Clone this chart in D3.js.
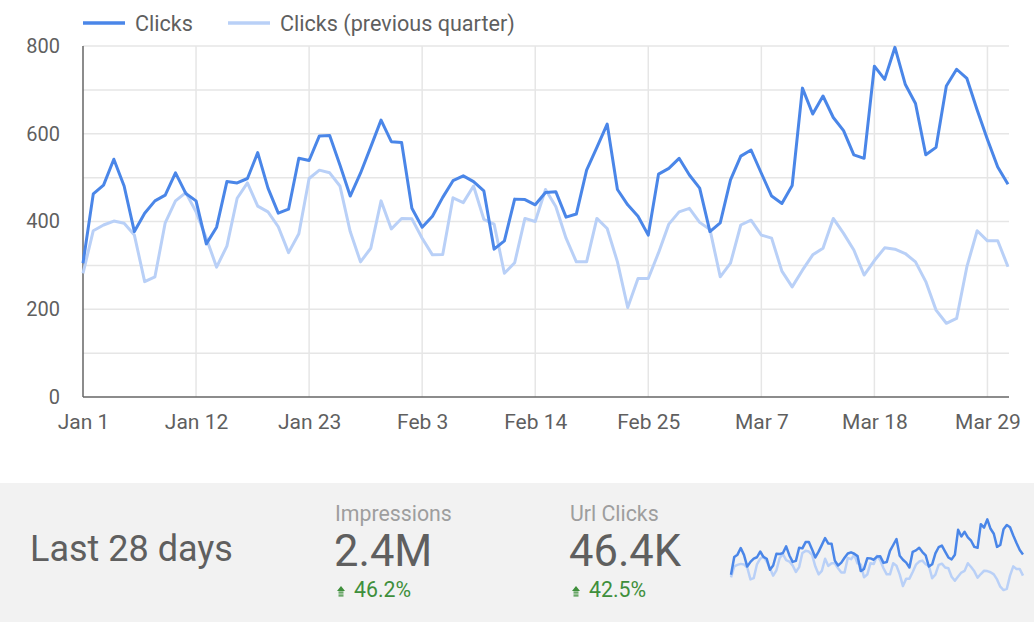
<!DOCTYPE html>
<html>
<head>
<meta charset="utf-8">
<script src="https://cdn.jsdelivr.net/npm/d3@7"></script>
<style>
  body { margin: 0; background: #fff; font-family: Roboto, "Noto Sans", sans-serif; }
  svg { display: block; }
</style>
</head>
<body>
<div id="chart"></div>
<script>
// Daily clicks, Jan 1 - Mar 31 (2020)
const clicks = [305, 463, 483, 542, 481, 377, 419, 447, 460, 511, 464, 447, 349, 387, 491, 488,
  498, 557, 476, 419, 428, 544, 539, 595, 596, 529, 458, 510, 570, 631, 582, 580, 430, 387, 412,
  455, 493, 504, 491, 470, 337, 356, 451, 450, 438, 466, 468, 410, 417, 517, 569, 622, 473, 438,
  412, 369, 508, 521, 544, 506, 476, 377, 397, 495, 549, 563, 510, 458, 441, 482, 704, 645, 686,
  637, 607, 552, 544, 754, 724, 797, 713, 669, 552, 569, 709, 747, 726, 654, 587, 524, 485];

const clicksPrev = [282, 379, 392, 401, 396, 369, 263, 274, 397, 447, 466, 422, 362, 296, 344,
  453, 488, 435, 422, 388, 329, 372, 498, 517, 511, 481, 377, 308, 339, 447, 383, 407, 406, 362,
  324, 325, 454, 443, 481, 405, 394, 282, 306, 407, 400, 473, 434, 362, 308, 308, 407, 384, 308,
  204, 270, 270, 329, 394, 422, 430, 398, 382, 274, 305, 392, 403, 369, 362, 287, 251, 289, 324,
  339, 407, 373, 335, 278, 311, 340, 337, 327, 308, 263, 198, 168, 179, 297, 379, 356, 356, 297];

const seriesNames = ["Clicks", "Clicks (previous quarter)"];
const tickLabels = ["Jan 1", "Jan 12", "Jan 23", "Feb 3", "Feb 14", "Feb 25", "Mar 7", "Mar 18", "Mar 29"];
const yTicks = [0, 200, 400, 600, 800];
const yGrid = [100, 200, 300, 400, 500, 600, 700, 800];

const summaryLabel = "Last 28 days";
const metricNames = ["Impressions", "Url Clicks"];
const metricValues = ["2.4M", "46.4K"];
const metricChanges = ["46.2%", "42.5%"];

const colors = ["#4a86e8", "#b9d0f7"];
const textColor = "#5f5f5f";

const W = 1034, H = 622;
const start = new Date(2020, 0, 1);
const dates = clicks.map((d, i) => d3.timeDay.offset(start, i));
const parseTick = d3.timeParse("%b %d %Y");
const tickDates = tickLabels.map(t => parseTick(t + " 2020"));

const svg = d3.select("#chart").append("svg")
    .attr("width", W)
    .attr("height", H);

// Main chart scales
const x = d3.scaleTime()
    .domain([start, dates[dates.length - 1]])
    .range([83, 1008]);

const y = d3.scaleLinear()
    .domain([0, 800])
    .range([397, 46]);

// Grid
svg.append("g")
    .selectAll("line")
    .data(yGrid)
    .join("line")
    .attr("x1", 83).attr("x2", 1009)
    .attr("y1", d => y(d)).attr("y2", d => y(d))
    .attr("stroke", "#e6e6e6").attr("stroke-width", 1.5);

svg.append("g")
    .selectAll("line")
    .data(tickDates.slice(1))
    .join("line")
    .attr("x1", d => x(d)).attr("x2", d => x(d))
    .attr("y1", y(800)).attr("y2", y(0))
    .attr("stroke", "#e6e6e6").attr("stroke-width", 1.5);

// Axes
const xAxis = svg.append("g")
    .attr("transform", `translate(0,${y(0)})`)
    .call(d3.axisBottom(x).tickValues(tickDates).tickSize(0).tickPadding(17)
        .tickFormat((d, i) => tickLabels[i]));
xAxis.select(".domain").attr("d", `M83,0H1009`).attr("stroke", "#666").attr("stroke-width", 1.5);
xAxis.selectAll(".tick text").attr("font-size", 21);

const yAxis = svg.append("g")
    .attr("transform", "translate(83,0)")
    .call(d3.axisLeft(y).tickValues(yTicks).tickSize(0).tickPadding(23));
yAxis.select(".domain").attr("d", `M0,${y(800)}V${y(0)}`).attr("stroke", "#666").attr("stroke-width", 1.5);
yAxis.selectAll(".tick text").attr("font-size", 20);

svg.selectAll(".tick text")
    .attr("font-family", "Roboto, sans-serif")
    .attr("fill", textColor);

// Lines
const line = d3.line()
    .x((d, i) => x(dates[i]))
    .y(d => y(d));

svg.append("path")
    .datum(clicksPrev)
    .attr("fill", "none")
    .attr("stroke", colors[1])
    .attr("stroke-width", 3)
    .attr("stroke-linejoin", "round")
    .attr("d", line);

svg.append("path")
    .datum(clicks)
    .attr("fill", "none")
    .attr("stroke", colors[0])
    .attr("stroke-width", 3)
    .attr("stroke-linejoin", "round")
    .attr("d", line);

// Legend
const legendX = [83, 228];
const legend = svg.append("g")
    .selectAll("g")
    .data(seriesNames)
    .join("g")
    .attr("transform", (d, i) => `translate(${legendX[i]},23)`);

legend.append("line")
    .attr("x1", 0).attr("x2", 42)
    .attr("stroke", (d, i) => colors[i])
    .attr("stroke-width", 3.5);

legend.append("text")
    .attr("x", 52)
    .attr("y", 7.5)
    .attr("font-family", "Roboto, sans-serif")
    .attr("font-size", 21.6)
    .attr("fill", textColor)
    .text(d => d);

// Summary panel
svg.append("rect")
    .attr("x", 0).attr("y", 483)
    .attr("width", W).attr("height", H - 483)
    .attr("fill", "#f2f2f2");

svg.append("text")
    .attr("x", 30).attr("y", 561)
    .attr("font-family", "Roboto, sans-serif")
    .attr("font-size", 36)
    .attr("fill", textColor)
    .text(summaryLabel);

const metricX = [335, 570];
const metric = svg.append("g")
    .selectAll("g")
    .data(metricNames)
    .join("g")
    .attr("transform", (d, i) => `translate(${metricX[i]},0)`);

metric.append("text")
    .attr("y", 521)
    .attr("font-family", "Roboto, sans-serif")
    .attr("font-size", 21.3)
    .attr("fill", "#9e9e9e")
    .text(d => d);

metric.append("text")
    .attr("x", -1)
    .attr("y", 566)
    .attr("font-family", "Roboto, sans-serif")
    .attr("font-size", 43.5)
    .attr("fill", textColor)
    .text((d, i) => metricValues[i]);

// up arrow icon with stripes
metric.append("path")
    .attr("d", "M1,591 L5,586 L9,591 Z M2.5,591.5 h5 v1.2 h-5 Z M2.5,593.4 h5 v1.2 h-5 Z M2.5,595.3 h5 v1.2 h-5 Z")
    .attr("transform", "translate(1,0)")
    .attr("fill", "#3f8f3c");

metric.append("text")
    .attr("x", 19)
    .attr("y", 597)
    .attr("font-family", "Roboto, sans-serif")
    .attr("font-size", 21.3)
    .attr("fill", "#3f8f3c")
    .text((d, i) => metricChanges[i]);

// Sparkline
const sx = d3.scaleTime()
    .domain(x.domain())
    .range([731, 1023]);
const sy = d3.scaleLinear()
    .domain([0, 800])
    .range([609, 519]);
const spark = d3.line()
    .x((d, i) => sx(dates[i]))
    .y(d => sy(d));

svg.append("path")
    .datum(clicksPrev)
    .attr("fill", "none")
    .attr("stroke", colors[1])
    .attr("stroke-width", 2.5)
    .attr("stroke-linejoin", "round")
    .attr("d", spark);

svg.append("path")
    .datum(clicks)
    .attr("fill", "none")
    .attr("stroke", colors[0])
    .attr("stroke-width", 2.5)
    .attr("stroke-linejoin", "round")
    .attr("d", spark);
</script>
</body>
</html>
